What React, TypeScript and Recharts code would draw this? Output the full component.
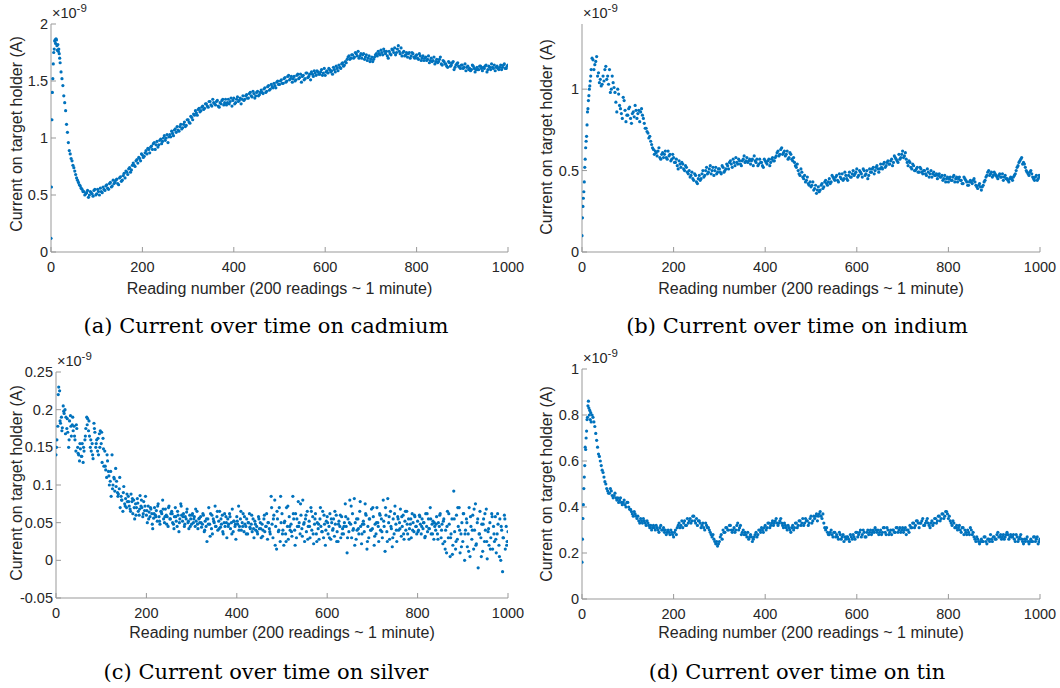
import React from 'react';
import { ScatterChart, Scatter, XAxis, YAxis } from 'recharts';

// every reading is kept for the first 20, after that readings 20, 24, 28 ... and 22, 26, 30 ...
const MAIN_START = 20;
const MID_START = 22;
const MAIN_STEP = 4;
// silver: readings 0, 2, 4 ... plus 1, 5, 9 ...
const SILVER_STEP = 2;
const SILVER_EXTRA_START = 1;

// cadmium, indium, tin: units of 1e-11 A (hundredths of the 1e-9 axis unit)
const cadmiumEarly = [12, 57, 116, 140, 152, 165, 175, 178, 185, 186, 183, 187, 186, 181, 177, 182, 176, 178, 174, 170];
const cadmiumMain = [
  166, 152, 137, 124, 105, 89, 82, 76, 71, 65,
  61, 58, 55, 53, 51, 54, 50, 52, 49, 55,
  51, 53, 56, 52, 55, 58, 56, 60, 57, 63,
  61, 64, 59, 66, 63, 69, 71, 68, 74, 72,
  78, 75, 81, 83, 80, 85, 84, 89, 91, 87,
  93, 95, 90, 97, 94, 99, 97, 102, 100, 96,
  103, 106, 102, 108, 110, 106, 112, 109, 114, 111,
  116, 113, 118, 121, 124, 120, 126, 124, 128, 126,
  130, 127, 132, 128, 131, 129, 133, 127, 130, 134,
  131, 129, 134, 132, 128, 135, 131, 136, 133, 130,
  137, 134, 138, 135, 140, 136, 139, 137, 141, 138,
  142, 139, 144, 141, 146, 143, 145, 148, 144, 150,
  147, 151, 148, 153, 150, 155, 152, 149, 154, 151,
  156, 153, 149, 155, 152, 157, 154, 151, 156, 159,
  155, 158, 156, 160, 157, 155, 159, 161, 158, 156,
  160, 163, 159, 162, 165, 163, 167, 169, 172, 170,
  173, 171, 174, 176, 172, 170, 174, 171, 168, 172,
  169, 167, 171, 174, 176, 173, 175, 178, 174, 172,
  176, 173, 177, 179, 175, 181, 174, 172, 176, 173,
  171, 175, 172, 174, 170, 173, 169, 172, 170, 168,
  171, 169, 166, 170, 168, 165, 169, 167, 171, 164,
  167, 165, 162, 166, 164, 167, 162, 165, 163, 161,
  164, 162, 159, 163, 161, 160, 163, 158, 162, 160,
  163, 159, 161, 164, 160, 162, 165, 161, 159, 163,
  160, 164, 162, 165, 161, 164,
];
const cadmiumMid = [
  158, 146, 131, 112, 96, 86, 80, 74, 68, 63,
  59, 56, 53, 50, 52, 48, 53, 51, 54, 50,
  55, 50, 53, 57, 54, 59, 55, 61, 58, 60,
  63, 60, 65, 62, 67, 65, 70, 73, 70, 76,
  76, 80, 78, 82, 86, 83, 87, 86, 90, 92,
  90, 96, 94, 92, 98, 95, 100, 98, 103, 101,
  101, 104, 107, 105, 107, 110, 108, 112, 110, 116,
  114, 119, 116, 120, 122, 125, 123, 127, 125, 130,
  128, 132, 129, 134, 130, 132, 128, 131, 133, 129,
  134, 131, 130, 135, 133, 130, 134, 132, 135, 134,
  133, 137, 135, 139, 137, 141, 135, 140, 137, 140,
  140, 143, 140, 145, 142, 147, 144, 146, 149, 147,
  150, 148, 152, 149, 154, 151, 154, 152, 150, 155,
  152, 156, 154, 151, 157, 153, 156, 158, 154, 157,
  159, 156, 158, 155, 161, 158, 157, 160, 159, 162,
  158, 161, 164, 161, 166, 164, 166, 171, 169, 173,
  170, 175, 172, 170, 174, 173, 169, 173, 170, 167,
  171, 169, 173, 172, 174, 177, 173, 176, 176, 170,
  174, 178, 175, 173, 178, 176, 179, 175, 172, 175,
  174, 170, 175, 171, 172, 170, 174, 168, 172, 170,
  168, 172, 168, 167, 171, 167, 166, 169, 165, 168,
  165, 163, 167, 163, 166, 160, 164, 166, 162, 164,
  161, 165, 162, 160, 159, 164, 161, 160, 160, 163,
  161, 162, 163, 158, 163, 160, 162, 164, 162, 161,
  162, 160, 164, 161, 163,
];

const indiumEarly = [10, 21, 28, 33, 37, 43, 52, 57, 64, 68, 71, 78, 86, 88, 93, 96, 100, 102, 105, 108];
const indiumMain = [
  112, 118, 115, 120, 110, 106, 103, 105, 114, 108,
  112, 100, 104, 98, 86, 97, 88, 82, 93, 80,
  84, 89, 79, 86, 90, 82, 87, 86, 84, 79,
  76, 73, 71, 66, 63, 62, 59, 64, 57, 61,
  60, 58, 62, 60, 57, 58, 55, 53, 56, 52,
  54, 50, 52, 48, 46, 49, 44, 47, 42, 47,
  45, 50, 47, 52, 49, 53, 50, 47, 52, 49,
  51, 48, 52, 50, 54, 51, 56, 52, 55, 58,
  54, 56, 53, 57, 55, 58, 56, 54, 57, 59,
  55, 53, 57, 55, 52, 56, 54, 57, 55, 58,
  56, 59, 62, 60, 64, 61, 59, 62, 58, 60,
  56, 55, 52, 50, 47, 49, 45, 43, 46, 41,
  40, 43, 39, 36, 40, 38, 42, 40, 44, 41,
  45, 43, 46, 44, 47, 43, 46, 48, 45, 47,
  44, 49, 46, 50, 48, 51, 47, 49, 46, 50,
  48, 45, 51, 49, 52, 50, 53, 49, 54, 51,
  55, 53, 56, 54, 57, 55, 58, 56, 60, 58,
  62, 59, 57, 53, 55, 51, 53, 50, 52, 49,
  51, 48, 50, 47, 49, 48, 46, 49, 47, 45,
  48, 46, 44, 47, 45, 43, 46, 44, 47, 45,
  43, 46, 44, 42, 45, 43, 41, 44, 42, 45,
  41, 39, 42, 38, 41, 44, 47, 50, 48, 46,
  49, 47, 45, 48, 46, 44, 47, 45, 43, 46,
  44, 47, 50, 53, 56, 58, 55, 52, 49, 47,
  50, 46, 44, 47, 45, 46,
];
const indiumMid = [
  119, 112, 117, 108, 104, 102, 108, 112, 106, 103,
  98, 108, 101, 92, 100, 90, 85, 95, 87, 84,
  88, 82, 85, 83, 87, 85, 80, 88, 82, 76,
  74, 70, 68, 64, 60, 61, 62, 58, 60, 58,
  62, 57, 59, 56, 60, 55, 57, 51, 54, 55,
  51, 53, 49, 50, 47, 45, 48, 43, 45, 44,
  48, 46, 50, 48, 51, 48, 52, 50, 48, 51,
  49, 53, 49, 51, 53, 55, 54, 57, 53, 55,
  57, 54, 56, 59, 56, 55, 57, 56, 53, 56,
  57, 54, 55, 53, 57, 55, 56, 53, 57, 56,
  58, 61, 59, 63, 60, 62, 60, 57, 61, 57,
  58, 53, 54, 48, 51, 46, 47, 44, 42, 43,
  41, 38, 41, 38, 37, 41, 39, 43, 42, 43,
  42, 47, 45, 46, 44, 48, 45, 44, 49, 45,
  47, 46, 48, 47, 49, 46, 50, 48, 51, 47,
  50, 47, 49, 51, 48, 52, 51, 51, 52, 54,
  52, 55, 54, 56, 53, 59, 57, 55, 57, 60,
  58, 61, 55, 56, 52, 54, 50, 51, 49, 52,
  49, 50, 48, 51, 46, 50, 48, 47, 48, 47,
  46, 47, 45, 43, 46, 45, 44, 46, 43, 46,
  45, 44, 42, 46, 44, 41, 43, 43, 44, 43,
  40, 41, 40, 40, 43, 46, 49, 47, 49, 47,
  48, 46, 47, 46, 48, 46, 45, 44, 45, 45,
  46, 48, 52, 55, 57, 54, 54, 50, 48, 49,
  48, 45, 46, 44, 47,
];

const tinEarly = [16, 26, 35, 41, 48, 53, 58, 66, 65, 70, 73, 78, 79, 84, 86, 83, 80, 82, 78, 81];
const tinMain = [
  77, 79, 75, 69, 63, 60, 56, 53, 50, 47,
  46, 47, 44, 46, 43, 42, 44, 41, 43, 40,
  42, 39, 38, 36, 37, 35, 34, 35, 33, 34,
  32, 33, 31, 30, 32, 30, 31, 29, 32, 30,
  29, 28, 30, 28, 29, 27, 30, 31, 33, 32,
  31, 34, 32, 33, 35, 34, 36, 33, 32, 34,
  31, 33, 30, 32, 31, 29, 27, 26, 24, 23,
  25, 28, 30, 29, 31, 30, 32, 29, 31, 30,
  33, 31, 28, 30, 29, 27, 26, 28, 25, 27,
  29, 28, 30, 31, 29, 32, 31, 33, 32, 34,
  33, 35, 32, 34, 33, 31, 32, 30, 31, 29,
  32, 31, 33, 32, 34, 33, 32, 35, 34, 33,
  36, 34, 35, 37, 36, 38, 35, 33, 30, 29,
  28, 30, 27, 29, 28, 26, 28, 27, 25, 26,
  27, 25, 27, 28, 26, 29, 28, 30, 28, 29,
  27, 30, 29, 28, 30, 31, 29, 28, 30, 29,
  31, 28, 30, 29, 28, 30, 29, 31, 30, 29,
  31, 30, 28, 30, 32, 31, 33, 32, 34, 31,
  33, 35, 32, 34, 33, 31, 34, 33, 35, 34,
  36, 35, 37, 36, 38, 35, 34, 32, 33, 31,
  30, 32, 29, 31, 30, 28, 29, 31, 28, 27,
  25, 26, 24, 26, 25, 27, 24, 26, 28, 25,
  27, 26, 29, 27, 26, 28, 27, 29, 26, 28,
  27, 26, 28, 25, 27, 26, 24, 25, 27, 24,
  26, 25, 27, 26, 24, 26,
];
const tinMid = [
  80, 77, 72, 66, 62, 58, 55, 51, 48, 46,
  48, 45, 45, 44, 44, 43, 42, 42, 41, 42,
  40, 39, 37, 38, 36, 36, 33, 34, 35, 33,
  34, 32, 32, 31, 31, 32, 30, 31, 30, 31,
  30, 29, 29, 30, 28, 29, 28, 32, 31, 34,
  33, 32, 35, 34, 33, 36, 34, 35, 34, 33,
  32, 31, 33, 31, 30, 28, 28, 25, 25, 24,
  27, 26, 29, 31, 30, 32, 30, 30, 29, 32,
  30, 32, 29, 28, 28, 29, 27, 27, 26, 28,
  27, 30, 29, 30, 31, 30, 33, 31, 33, 32,
  34, 33, 33, 35, 32, 33, 31, 32, 30, 31,
  30, 33, 31, 34, 32, 35, 33, 34, 32, 35,
  33, 36, 36, 34, 37, 36, 37, 31, 31, 28,
  29, 28, 29, 27, 27, 29, 26, 28, 27, 27,
  26, 28, 26, 27, 29, 27, 29, 27, 30, 27,
  29, 28, 30, 29, 29, 30, 30, 29, 28, 31,
  29, 31, 28, 30, 30, 29, 31, 29, 31, 30,
  29, 31, 30, 29, 31, 33, 31, 34, 33, 33,
  34, 32, 33, 35, 32, 33, 32, 35, 33, 36,
  34, 37, 35, 38, 37, 36, 33, 34, 31, 32,
  31, 30, 31, 28, 29, 30, 28, 30, 29, 26,
  27, 25, 25, 25, 27, 25, 26, 25, 26, 27,
  26, 28, 27, 28, 27, 26, 28, 28, 27, 27,
  28, 25, 27, 26, 28, 25, 26, 26, 25, 25,
  25, 27, 25, 27, 25,
];

// silver: units of 1e-12 A (thousandths of the 1e-9 axis unit), readings 0, 2, 4 ... 1000
const silver = [
  140, 160, 178, 230, 225, 182, 190, 176, 205, 195,
  200, 190, 175, 170, 150, 185, 192, 165, 180, 172,
  178, 160, 145, 175, 150, 140, 132, 148, 138, 155,
  130, 145, 160, 175, 190, 188, 172, 165, 150, 145,
  155, 135, 182, 170, 150, 160, 145, 140, 168, 172,
  155, 130, 162, 125, 145, 120, 110, 132, 118, 100,
  105, 85, 140, 100, 110, 92, 122, 105, 90, 88,
  95, 70, 85, 80, 65, 98, 75, 82, 70, 78,
  85, 72, 68, 88, 78, 62, 80, 55, 75, 70,
  82, 65, 60, 86, 72, 70, 58, 78, 66, 85,
  60, 50, 72, 64, 58, 68, 62, 42, 56, 70,
  60, 66, 52, 75, 58, 48, 65, 62, 80, 55,
  50, 68, 60, 58, 45, 72, 55, 62, 65, 50,
  48, 58, 70, 52, 45, 60, 38, 55, 75, 60,
  52, 62, 45, 58, 55, 68, 50, 42, 60, 55,
  48, 62, 50, 58, 45, 52, 65, 42, 55, 50,
  58, 44, 48, 60, 38, 52, 45, 25, 55, 70,
  48, 62, 42, 35, 55, 50, 72, 45, 58, 40,
  52, 65, 44, 48, 60, 35, 50, 45, 58, 30,
  55, 48, 62, 42, 50, 68, 38, 52, 45, 28,
  58, 48, 72, 45, 55, 40, 50, 62, 38, 48,
  45, 55, 35, 50, 62, 42, 48, 38, 55, 30,
  52, 40, 45, 35, 58, 42, 50, 30, 48, 40,
  55, 38, 45, 62, 28, 50, 42, 35, 85, 48,
  30, 60, 80, 45, 15, 55, 38, 70, 25, 50,
  62, 40, 20, 52, 35, 70, 45, 28, 58, 40,
  48, 32, 85, 55, 40, 62, 30, 45, 78, 50,
  35, 60, 42, 80, 48, 25, 55, 38, 65, 45,
  52, 30, 70, 40, 58, 22, 48, 62, 35, 50,
  42, 28, 55, 45, 38, 65, 30, 48, 20, 52,
  58, 35, 45, 62, 28, 50, 40, 55, 32, 48,
  60, 38, 25, 52, 45, 30, 58, 42, 35, 50,
  75, 45, 10, 55, 38, 80, 48, 30, 62, 42,
  82, 50, 28, 40, 55, 35, 65, 45, 22, 48,
  52, 38, 75, 60, 15, 45, 30, 55, 40, 68,
  42, 58, 20, 48, 35, 70, 50, 25, 62, 40,
  55, 30, 80, 45, 12, 60, 38, 82, 50, 28,
  65, 42, 18, 55, 35, 72, 48, 25, 58, 40,
  50, 68, 32, 45, 60, 28, 52, 40, 65, 35,
  55, 42, 48, 30, 62, 50, 38, 58, 45, 35,
  52, 40, 60, 48, 35, 55, 42, 50, 30, 62,
  45, 38, 55, 42, 70, 35, 48, 52, 28, 45,
  40, 58, 35, 50, 45, 62, 30, 48, 22, 55,
  25, 40, 10, 65, 30, 48, 5, 35, 55, 20,
  92, 38, 15, 60, 28, 45, 70, 10, 35, 50,
  25, 62, 0, 40, 55, 18, 35, 70, 5, 45,
  28, 60, 15, 40, 75, 22, 50, -10, 35, 65,
  30, 48, 12, 55, 25, 40, 68, 2, 38, 20,
  50, 30, 62, 15, 45, 25, 58, 10, 35, 48,
  20, 55, 0, 40, -15, 30, 60, 15, 45, 25,
  38,
];
// silver, readings 1, 5, 9 ... 997
const silverExtra = [
  150, 220, 185, 172, 198, 168, 188, 160, 178, 190,
  165, 180, 142, 155, 138, 150, 165, 180, 185, 160,
  140, 175, 155, 162, 150, 170, 148, 125, 140, 112,
  118, 95, 108, 98, 85, 110, 80, 90, 72, 88,
  78, 65, 82, 70, 60, 76, 68, 80, 62, 72,
  66, 55, 70, 48, 62, 58, 72, 52, 64, 68,
  58, 48, 70, 55, 62, 42, 58, 65, 50, 72,
  58, 48, 64, 52, 45, 60, 55, 68, 48, 56,
  50, 62, 40, 55, 48, 32, 60, 52, 45, 65,
  42, 55, 38, 62, 50, 45, 58, 35, 52, 48,
  52, 40, 65, 45, 58, 35, 50, 44, 60, 42,
  48, 38, 55, 42, 32, 60, 45, 50, 38, 70,
  55, 20, 65, 40, 85, 35, 50, 25, 72, 45,
  38, 62, 20, 55, 45, 75, 32, 50, 60, 28,
  45, 65, 35, 55, 25, 48, 70, 38, 60, 40,
  50, 30, 55, 42, 65, 25, 48, 60, 35, 45,
  58, 30, 50, 72, 40, 20, 55, 42, 78, 35,
  48, 62, 25, 55, 40, 70, 32, 50, 45, 60,
  38, 52, 70, 25, 58, 45, 30, 62, 40, 55,
  42, 58, 35, 65, 48, 28, 55, 40, 60, 45,
  38, 58, 45, 50, 32, 62, 42, 55, 35, 50,
  48, 28, 60, 40, 52, 15, 45, 62, 30, 8,
  55, 25, 70, 40, 18, 62, 35, 50, 12, 58,
  40, 68, 20, 55, 35, 5, 48, 62, 25, 42,
  15, 58, 35, 28, 62, 5, 45, 30, 55, 20,
];

const xTicks = [0, 200, 400, 600, 800, 1000];
const cadmiumTicks = [0, 0.5, 1, 1.5, 2];
const indiumTicks = [0, 0.5, 1];
const silverTicks = [-0.05, 0, 0.05, 0.1, 0.15, 0.2, 0.25];
const tinTicks = [0, 0.2, 0.4, 0.6, 0.8, 1];

const BLUE = '#0072BD';
const AXIS = '#999999';
const TEXT = '#262626';
const SANS = '"Liberation Sans", Arial, sans-serif';
const SERIF = '"DejaVu Serif", serif';

const toPoints = (early: number[], main: number[], mid: number[]) => [
  ...early.map((v, i) => ({ x: i, y: v / 100 })),
  ...main.map((v, i) => ({ x: MAIN_START + MAIN_STEP * i, y: v / 100 })),
  ...mid.map((v, i) => ({ x: MID_START + MAIN_STEP * i, y: v / 100 })),
];

const silverPoints = [
  ...silver.map((v, i) => ({ x: SILVER_STEP * i, y: v / 1000 })),
  ...silverExtra.map((v, i) => ({ x: SILVER_EXTRA_START + MAIN_STEP * i, y: v / 1000 })),
];

const Dot = (p: any) => <circle cx={p.cx} cy={p.cy} r={1.6} fill={BLUE} />;

interface PanelProps {
  box: { x0: number; y0: number; x1: number; y1: number };
  data: { x: number; y: number }[];
  yTicks: number[];
  yDomain: [number, number];
  yLabelX: number;
  yLabelY: number;
  xLabelBase: number;
  caption: string;
  captionX: number;
  captionBase: number;
}

const Panel = ({ box, data, yTicks, yDomain, yLabelX, yLabelY, xLabelBase, caption, captionX, captionBase }: PanelProps) => {
  const w = box.x1 - box.x0;
  const h = box.y1 - box.y0;
  const tickFont = { fontSize: 14.5, fill: TEXT, fontFamily: SANS };
  return (
    <>
      <div style={{ position: 'absolute', left: box.x0 - 60, top: box.y0 - 20 }}>
        <ScatterChart width={w + 80} height={h + 60} margin={{ top: 20, right: 20, bottom: 10, left: 15 }}>
          <XAxis
            type="number"
            dataKey="x"
            domain={[0, 1000]}
            ticks={xTicks}
            interval={0}
            allowDataOverflow
            height={30}
            tickSize={-5}
            tickMargin={15}
            axisLine={{ stroke: AXIS }}
            tickLine={{ stroke: AXIS }}
            tick={tickFont}
          />
          <XAxis
            xAxisId="top"
            orientation="top"
            type="number"
            domain={[0, 1000]}
            ticks={xTicks}
            interval={0}
            allowDataOverflow
            height={0}
            tickSize={-5}
            axisLine={{ stroke: AXIS }}
            tickLine={{ stroke: AXIS }}
            tickFormatter={() => ''}
          />
          <YAxis
            type="number"
            dataKey="y"
            domain={yDomain}
            ticks={yTicks}
            interval={0}
            allowDataOverflow
            width={45}
            tickSize={-5}
            tickMargin={8}
            axisLine={{ stroke: AXIS }}
            tickLine={{ stroke: AXIS }}
            tick={tickFont}
          />
          <YAxis
            yAxisId="right"
            orientation="right"
            type="number"
            domain={yDomain}
            ticks={yTicks}
            interval={0}
            allowDataOverflow
            width={0}
            tickSize={-5}
            axisLine={{ stroke: AXIS }}
            tickLine={{ stroke: AXIS }}
            tickFormatter={() => ''}
          />
          <Scatter data={data} shape={Dot} isAnimationActive={false} />
        </ScatterChart>
      </div>
      <div
        style={{
          position: 'absolute', left: box.x0 + 1, top: box.y0 - 6 - 13.5, height: 17, lineHeight: '17px',
          fontSize: 14.5, fontFamily: SANS, color: TEXT, whiteSpace: 'nowrap',
        }}
      >
        ×10<span style={{ fontSize: 11.5, position: 'relative', top: -6 }}>-9</span>
      </div>
      <div
        style={{
          position: 'absolute', left: yLabelX - 150, top: yLabelY - 10, width: 300, height: 20, lineHeight: '20px',
          fontSize: 16, fontFamily: SANS, color: TEXT, textAlign: 'center', whiteSpace: 'nowrap',
          transform: 'rotate(-90deg)',
        }}
      >
        Current on target holder (A)
      </div>
      <div
        style={{
          position: 'absolute', left: (box.x0 + box.x1) / 2 - 200, top: xLabelBase - 15.5, width: 400, height: 20,
          lineHeight: '20px', fontSize: 16, fontFamily: SANS, color: TEXT, textAlign: 'center', whiteSpace: 'nowrap',
        }}
      >
        Reading number (200 readings ~ 1 minute)
      </div>
      <div
        style={{
          position: 'absolute', left: captionX - 250, top: captionBase - 19.3, width: 500, height: 24,
          lineHeight: '24px', fontSize: 21, fontFamily: SERIF, color: '#000', textAlign: 'center', whiteSpace: 'nowrap',
        }}
      >
        {caption}
      </div>
    </>
  );
};

export default function App() {
  return (
    <div style={{ position: 'absolute', left: 0, top: 0, width: 1060, height: 688, background: '#fff', overflow: 'hidden' }}>
      <Panel
        box={{ x0: 51, y0: 24, x1: 508, y1: 252 }}
        data={toPoints(cadmiumEarly, cadmiumMain, cadmiumMid)}
        yTicks={cadmiumTicks}
        yDomain={[0, 2]}
        yLabelX={16.5}
        yLabelY={134}
        xLabelBase={294}
        caption="(a) Current over time on cadmium"
        captionX={266}
        captionBase={333}
      />
      <Panel
        box={{ x0: 582, y0: 24, x1: 1040, y1: 252 }}
        data={toPoints(indiumEarly, indiumMain, indiumMid)}
        yTicks={indiumTicks}
        yDomain={[0, 1.4]}
        yLabelX={546.5}
        yLabelY={137}
        xLabelBase={294}
        caption="(b) Current over time on indium"
        captionX={797}
        captionBase={333}
      />
      <Panel
        box={{ x0: 56, y0: 372, x1: 508, y1: 598 }}
        data={silverPoints}
        yTicks={silverTicks}
        yDomain={[-0.05, 0.25]}
        yLabelX={16.5}
        yLabelY={483}
        xLabelBase={638}
        caption="(c) Current over time on silver"
        captionX={266}
        captionBase={679}
      />
      <Panel
        box={{ x0: 582, y0: 369, x1: 1040, y1: 599 }}
        data={toPoints(tinEarly, tinMain, tinMid)}
        yTicks={tinTicks}
        yDomain={[0, 1]}
        yLabelX={546.5}
        yLabelY={484}
        xLabelBase={638}
        caption="(d) Current over time on tin"
        captionX={797}
        captionBase={679}
      />
    </div>
  );
}
